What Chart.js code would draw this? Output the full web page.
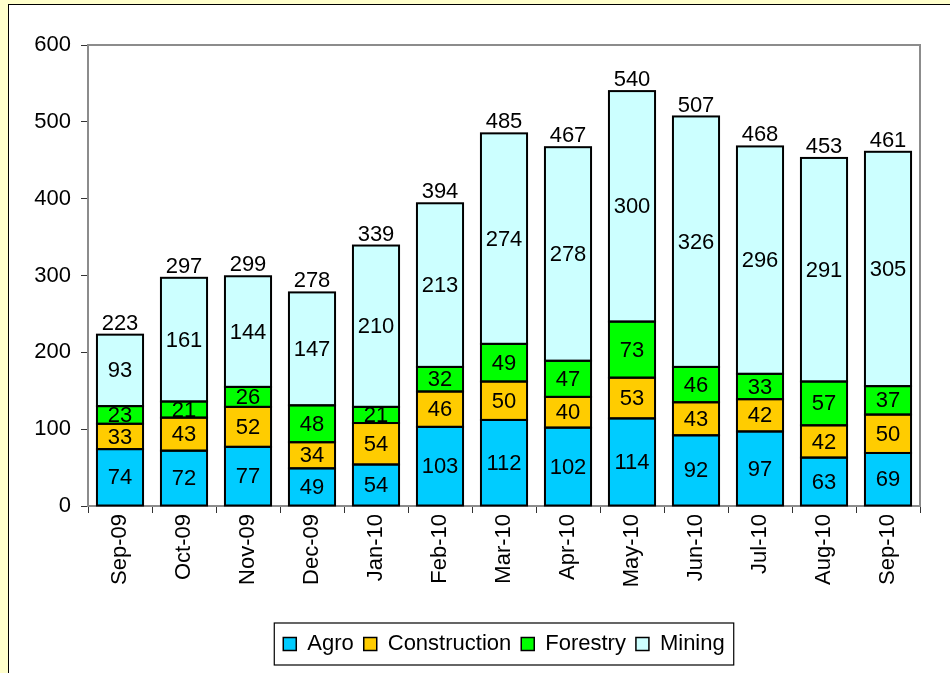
<!DOCTYPE html>
<html lang="en">
<head>
    <meta charset="UTF-8">
    <title>Monthly totals by sector</title>
    <script src="https://cdn.jsdelivr.net/npm/chart.js"></script>
    <style>
        html, body { margin: 0; padding: 0; }
        body { background: #FFFFCC; width: 950px; height: 673px; overflow: hidden; position: relative; }
        .panel {
            position: absolute; left: 8px; top: 4px; width: 960px; height: 700px;
            background: #fff; border: 1.5px solid #000; box-sizing: border-box;
        }
        .chart-box { position: absolute; left: 0; top: 0; width: 950px; height: 673px; }
    </style>
</head>
<body>
    <div class="panel"></div>
    <div class="chart-box">
        <canvas id="sectorChart" width="950" height="673"></canvas>
    </div>

    <script>
        // data
        const months = ['Sep-09', 'Oct-09', 'Nov-09', 'Dec-09', 'Jan-10', 'Feb-10', 'Mar-10',
                        'Apr-10', 'May-10', 'Jun-10', 'Jul-10', 'Aug-10', 'Sep-10'];
        const agro = [74, 72, 77, 49, 54, 103, 112, 102, 114, 92, 97, 63, 69];
        const construction = [33, 43, 52, 34, 54, 46, 50, 40, 53, 43, 42, 42, 50];
        const forestry = [23, 21, 26, 48, 21, 32, 49, 47, 73, 46, 33, 57, 37];
        const mining = [93, 161, 144, 147, 210, 213, 274, 278, 300, 326, 296, 291, 305];
        const totals = [223, 297, 299, 278, 339, 394, 485, 467, 540, 507, 468, 453, 461];
        const yTicks = [0, 100, 200, 300, 400, 500, 600];

        const FONT = "'Liberation Sans', Arial, sans-serif";

        function series(label, data, color) {
            return {
                label: label,
                data: data,
                backgroundColor: color,
                borderColor: '#000',
                borderWidth: 0,
                barPercentage: 0.72,
                categoryPercentage: 1.0
            };
        }

        // gray frame on top/right of the plot area
        const plotFrame = {
            id: 'plotFrame',
            beforeDatasetsDraw(chart) {
                const a = chart.chartArea;
                const ctx = chart.ctx;
                ctx.save();
                ctx.strokeStyle = '#8c8c8c';
                ctx.lineWidth = 2;
                ctx.strokeRect(a.left, a.top, a.right - a.left, a.bottom - a.top);
                ctx.restore();
            }
        };

        // single black outline round every segment, then the values
        const valueLabels = {
            id: 'valueLabels',
            afterDatasetsDraw(chart) {
                const ctx = chart.ctx;
                ctx.save();
                ctx.strokeStyle = '#000';
                ctx.lineWidth = 2;
                chart.data.datasets.forEach((ds, i) => {
                    chart.getDatasetMeta(i).data.forEach(bar => {
                        const p = bar.getProps(['x', 'y', 'base', 'width'], true);
                        ctx.strokeRect(p.x - p.width / 2, p.y, p.width, p.base - p.y);
                    });
                });

                ctx.font = '22px ' + FONT;
                ctx.fillStyle = '#000';
                ctx.textAlign = 'center';
                ctx.textBaseline = 'middle';
                chart.data.datasets.forEach((ds, i) => {
                    chart.getDatasetMeta(i).data.forEach((bar, j) => {
                        const p = bar.getProps(['x', 'y', 'base'], true);
                        ctx.fillText(ds.data[j], p.x, (p.y + p.base) / 2 + 1);
                    });
                });
                const last = chart.getDatasetMeta(chart.data.datasets.length - 1);
                ctx.textBaseline = 'bottom';
                last.data.forEach((bar, j) => {
                    const p = bar.getProps(['x', 'y'], true);
                    ctx.fillText(totals[j], p.x, p.y);
                });
                ctx.restore();
            }
        };

        // centre the legend under the plot and box it
        const legendFrame = {
            id: 'legendFrame',
            afterLayout(chart) {
                const a = chart.chartArea;
                const shift = (a.left + a.right) / 2 - (chart.legend.left + chart.legend.right) / 2;
                chart.legend.left += shift;
                chart.legend.right += shift;
            },
            afterDraw(chart) {
                const boxes = chart.legend.legendHitBoxes;
                if (!boxes || !boxes.length) return;
                const first = boxes[0], lastBox = boxes[boxes.length - 1];
                const ctx = chart.ctx;
                ctx.save();
                ctx.strokeStyle = '#000';
                ctx.lineWidth = 1.2;
                ctx.strokeRect(first.left - 9, first.top - 10,
                               lastBox.left + lastBox.width - first.left + 18, first.height + 20);
                ctx.restore();
            }
        };

        const ctx = document.getElementById('sectorChart').getContext('2d');
        const sectorChart = new Chart(ctx, {
            type: 'bar',
            data: {
                labels: months,
                datasets: [
                    series('Agro', agro, '#00CCFF'),
                    series('Construction', construction, '#FFCC00'),
                    series('Forestry', forestry, '#00FF00'),
                    series('Mining', mining, '#CCFFFF')
                ]
            },
            options: {
                responsive: false,
                animation: false,
                layout: { padding: { top: 45, right: 30, left: 0, bottom: 8 } },
                plugins: {
                    tooltip: { enabled: false },
                    legend: {
                        position: 'bottom',
                        labels: {
                            color: '#000',
                            font: { family: FONT, size: 22 },
                            boxWidth: 13,
                            boxHeight: 13,
                            padding: 10,
                            generateLabels(chart) {
                                return Chart.defaults.plugins.legend.labels.generateLabels(chart)
                                    .map(item => Object.assign(item, { lineWidth: 1.5, strokeStyle: '#000' }));
                            }
                        }
                    }
                },
                scales: {
                    x: {
                        stacked: true,
                        afterFit(scale) { scale.height = 117; },
                        grid: {
                            drawOnChartArea: false,
                            drawTicks: true,
                            tickLength: 7,
                            color: '#333',
                            lineWidth: 1
                        },
                        border: { display: true, color: '#222', width: 1.5 },
                        ticks: {
                            color: '#000',
                            font: { family: FONT, size: 22 },
                            minRotation: 90,
                            maxRotation: 90,
                            padding: 1
                        }
                    },
                    y: {
                        stacked: true,
                        min: 0,
                        max: 600,
                        afterFit(scale) { scale.width = 88; },
                        afterBuildTicks(scale) { scale.ticks = yTicks.map(v => ({ value: v })); },
                        grid: {
                            drawOnChartArea: false,
                            drawTicks: true,
                            tickLength: 7,
                            color: '#333',
                            lineWidth: 1
                        },
                        border: { display: true, color: '#222', width: 1.5 },
                        ticks: {
                            color: '#000',
                            font: { family: FONT, size: 22 },
                            padding: 10
                        }
                    }
                }
            },
            plugins: [plotFrame, valueLabels, legendFrame]
        });
    </script>
</body>
</html>
